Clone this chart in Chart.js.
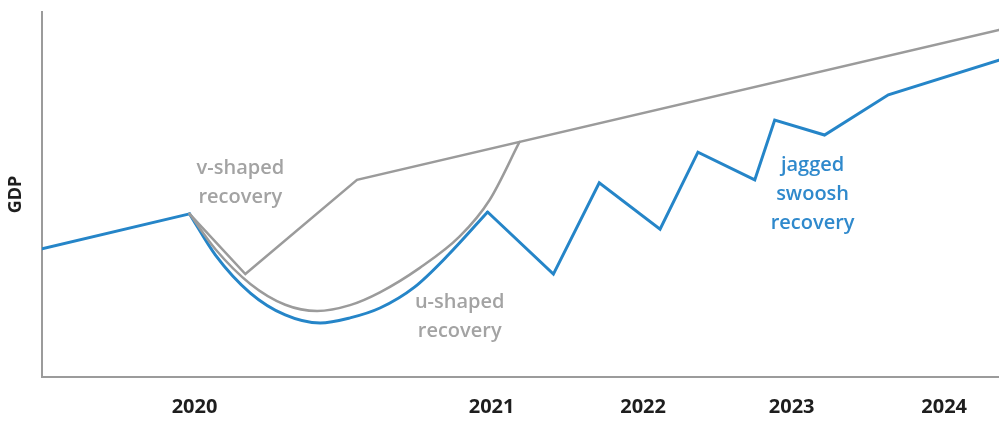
<!DOCTYPE html>
<html>
<head>
<meta charset="utf-8">
<script src="https://cdn.jsdelivr.net/npm/chart.js@4.4.1/dist/chart.umd.min.js"></script>
<style>
  html, body { margin: 0; padding: 0; background: #fff; }
  #wrap { width: 999px; height: 421px; position: relative; }
</style>
</head>
<body>
<div id="wrap"><canvas id="gdpChart"></canvas></div>
<script>
// x runs along a relative timeline (0..96), y is relative GDP (0..100)
const tickPos = [15.3, 45.1, 60.3, 75.2, 90.5];
const tickLabels = ['2020', '2021', '2022', '2023', '2024'];

// pre-crisis stretch
const preX = [0, 14.8];
const preY = [35.1, 44.7];

// blue u-shaped dip leading into the jagged part
const blueUX = [14.8, 17.4, 20.9, 24.4, 27.9, 30.9, 33.9, 37.4, 40.6, 44.7];
const blueUY = [44.7, 33.4, 23.0, 17.0, 14.8, 16.2, 18.9, 24.7, 33.0, 45.2];

// jagged swoosh recovery
const jaggedX = [44.7, 51.3, 55.9, 62.0, 65.8, 71.5, 73.5, 78.5, 84.9, 96];
const jaggedY = [45.2, 28.2, 53.2, 40.5, 61.6, 54.0, 70.4, 66.3, 77.3, 86.8];

// v-shaped recovery, then the trend line
const vShapeX = [14.8, 20.4, 31.6, 96];
const vShapeY = [44.7, 28.2, 54.0, 95.1];

// u-shaped recovery
const uShapeX = [14.8, 17.4, 20.9, 24.4, 27.6, 30.9, 33.9, 37.9, 41.9, 44.9, 47.9];
const uShapeY = [44.7, 35.0, 25.5, 19.8, 18.1, 19.7, 23.2, 29.9, 38.5, 48.5, 64.4];

const BLUE = '#2585c8';
const GRAY = '#9b9b9b';

function pts(xs, ys) {
  return xs.map((x, i) => ({ x: x, y: ys[i] }));
}

// text labels next to the curves
const notes = [
  { x: 19.9, y: 57.3, lines: ['v-shaped', 'recovery'], color: '#a3a3a3' },
  { x: 41.9, y: 20.5, lines: ['u-shaped', 'recovery'], color: '#a3a3a3' },
  { x: 77.3, y: 57.9, lines: ['jagged', 'swoosh', 'recovery'], color: '#2f89cc' }
];

const notePlugin = {
  id: 'notes',
  afterDatasetsDraw(chart) {
    const ctx = chart.ctx;
    const xs = chart.scales.x, ys = chart.scales.y;
    ctx.save();
    ctx.font = '600 20px "Open Sans", sans-serif';
    ctx.textAlign = 'center';
    ctx.textBaseline = 'middle';
    notes.forEach(n => {
      ctx.fillStyle = n.color;
      n.lines.forEach((t, i) => {
        ctx.fillText(t, xs.getPixelForValue(n.x), ys.getPixelForValue(n.y) + i * 29);
      });
    });
    ctx.restore();
  }
};

const lineStyle = { pointRadius: 0, fill: false, borderCapStyle: 'round', borderJoinStyle: 'miter' };

new Chart(document.getElementById('gdpChart'), {
  type: 'line',
  data: {
    datasets: [
      { ...lineStyle, data: pts(vShapeX, vShapeY), borderColor: GRAY, borderWidth: 2.5, tension: 0 },
      { ...lineStyle, data: pts(uShapeX, uShapeY), borderColor: GRAY, borderWidth: 2.5, cubicInterpolationMode: 'monotone' },
      { ...lineStyle, data: pts(preX, preY), borderColor: BLUE, borderWidth: 3, tension: 0 },
      { ...lineStyle, data: pts(blueUX, blueUY), borderColor: BLUE, borderWidth: 3, cubicInterpolationMode: 'monotone' },
      { ...lineStyle, data: pts(jaggedX, jaggedY), borderColor: BLUE, borderWidth: 3, tension: 0 }
    ]
  },
  options: {
    responsive: true,
    maintainAspectRatio: false,
    animation: false,
    layout: { padding: { top: 12, right: 0, left: 0, bottom: 0 } },
    plugins: { legend: { display: false }, tooltip: { enabled: false } },
    scales: {
      x: {
        type: 'linear',
        min: 0,
        max: 96,
        grid: { display: false, drawTicks: false },
        border: { display: true, color: GRAY, width: 2 },
        afterBuildTicks(scale) {
          scale.ticks = tickPos.map(v => ({ value: v }));
        },
        afterFit(scale) { scale.height = 44; },
        ticks: {
          autoSkip: false,
          maxRotation: 0,
          padding: 18,
          color: '#1e1e1e',
          font: { family: '"Open Sans", sans-serif', size: 20, weight: 'bold' },
          callback: (value, index) => tickLabels[index]
        }
      },
      y: {
        min: 0,
        max: 100,
        grid: { display: false, drawTicks: false },
        border: { display: true, color: GRAY, width: 2 },
        ticks: { display: false },
        afterFit(scale) { scale.width = 42; },
        title: {
          display: true,
          text: 'GDP',
          color: '#1e1e1e',
          padding: { top: 5, bottom: 8 },
          font: { family: '"Open Sans", sans-serif', size: 18, weight: 'bold' }
        }
      }
    }
  },
  plugins: [notePlugin]
});
</script>
</body>
</html>
